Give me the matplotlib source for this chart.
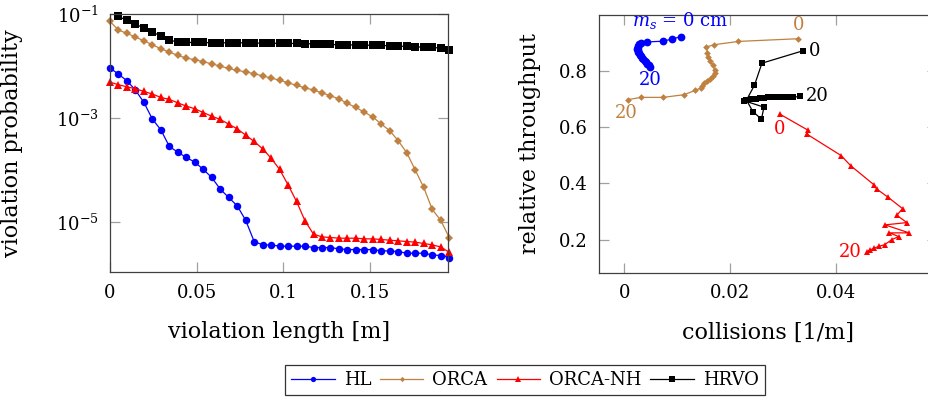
import numpy as np
import matplotlib
matplotlib.use("Agg")
import matplotlib.pyplot as plt
from matplotlib.ticker import NullLocator, FixedLocator

plt.rcParams['font.family'] = ['DejaVu Serif']
plt.rcParams['mathtext.fontset'] = 'custom'
plt.rcParams['mathtext.rm'] = 'DejaVu Serif'
plt.rcParams['mathtext.it'] = 'DejaVu Serif:italic'

# ---------------- left panel data ----------------
viol_len = np.linspace(0.0, 0.196, 41)  # sample grid (m)

hl_prob = [9.12e-3, 6.98e-3, 5.19e-3, 3.44e-3, 1.99e-3, 9.48e-4, 5.90e-4, 2.82e-4,
           2.19e-4, 1.73e-4, 1.41e-4, 1.02e-4, 7.13e-5, 4.25e-5, 2.94e-5, 2.03e-5,
           1.07e-5, 4.17e-6, 3.59e-6, 3.59e-6, 3.39e-6, 3.39e-6, 3.39e-6, 3.39e-6,
           3.19e-6, 3.19e-6, 3.19e-6, 3.01e-6, 2.92e-6, 2.92e-6, 2.92e-6, 2.92e-6,
           2.75e-6, 2.75e-6, 2.67e-6, 2.48e-6, 2.48e-6, 2.48e-6, 2.30e-6, 2.24e-6,
           2.05e-6]
orca_prob = [7.23e-2, 4.92e-2, 4.25e-2, 3.61e-2, 3.06e-2, 2.56e-2, 2.15e-2, 1.85e-2,
             1.60e-2, 1.42e-2, 1.32e-2, 1.21e-2, 1.10e-2, 9.95e-3, 8.97e-3, 8.22e-3,
             7.73e-3, 7.08e-3, 6.47e-3, 5.85e-3, 5.35e-3, 4.75e-3, 4.23e-3, 3.81e-3,
             3.44e-3, 3.05e-3, 2.67e-3, 2.33e-3, 1.90e-3, 1.59e-3, 1.29e-3, 1.04e-3,
             7.60e-4, 5.65e-4, 3.62e-4, 2.13e-4, 9.86e-5, 4.58e-5, 1.73e-5, 1.07e-5,
             4.98e-6]
orcanh_prob = [4.90e-3, 4.35e-3, 3.98e-3, 3.64e-3, 3.24e-3, 2.88e-3, 2.48e-3, 2.27e-3,
               1.95e-3, 1.69e-3, 1.50e-3, 1.27e-3, 1.08e-3, 9.35e-4, 7.60e-4, 6.17e-4,
               4.67e-4, 3.52e-4, 2.54e-4, 1.68e-4, 1.02e-4, 5.14e-5, 2.46e-5, 1.04e-5,
               5.77e-6, 5.12e-6, 4.98e-6, 4.83e-6, 4.83e-6, 4.83e-6, 4.69e-6, 4.69e-6,
               4.56e-6, 4.42e-6, 4.29e-6, 4.17e-6, 4.05e-6, 3.82e-6, 3.59e-6, 3.28e-6,
               2.59e-6]
hrvo_prob = [np.nan, 9.02e-2, 7.55e-2, 6.41e-2, 5.37e-2, 4.50e-2, 3.77e-2, 3.16e-2,
             2.89e-2, 2.84e-2, 2.84e-2, 2.84e-2, 2.80e-2, 2.80e-2, 2.80e-2, 2.80e-2,
             2.80e-2, 2.76e-2, 2.76e-2, 2.76e-2, 2.72e-2, 2.72e-2, 2.72e-2, 2.68e-2,
             2.68e-2, 2.64e-2, 2.60e-2, 2.56e-2, 2.56e-2, 2.53e-2, 2.53e-2, 2.49e-2,
             2.49e-2, 2.45e-2, 2.42e-2, 2.38e-2, 2.34e-2, 2.31e-2, 2.28e-2, 2.21e-2,
             2.05e-2]

# ---------------- right panel data (m_s = 0 ... 20 cm) ----------------
hl_coll = [0.01063, 0.00903, 0.00723, 0.00424, 0.00316, 0.00278, 0.00259, 0.00250,
           0.00246, 0.00250, 0.00259, 0.00274, 0.00293, 0.00312, 0.00335, 0.00358,
           0.00382, 0.00407, 0.00433, 0.00462, 0.00492]
hl_thr = [0.9205, 0.912, 0.9045, 0.902, 0.898, 0.894, 0.889, 0.883, 0.878, 0.873,
          0.867, 0.862, 0.857, 0.851, 0.846, 0.841, 0.835, 0.830, 0.825, 0.819, 0.814]
orca_coll = [0.03292, 0.02161, 0.01697, 0.01552, 0.01574, 0.01593, 0.01622, 0.01669,
             0.01707, 0.01716, 0.01678, 0.01622, 0.01565, 0.01508, 0.01470, 0.01446,
             0.01343, 0.01130, 0.00738, 0.00316, 0.00064]
orca_thr = [0.9134, 0.9038, 0.8921, 0.8840, 0.8638, 0.8496, 0.8354, 0.8213, 0.8035,
            0.7911, 0.7805, 0.7716, 0.7628, 0.7557, 0.7468, 0.7387, 0.7302, 0.7149,
            0.7054, 0.7054, 0.6972]
orcanh_coll = [0.02946, 0.03476, 0.03457, 0.04106, 0.04284, 0.04734, 0.04776, 0.04995,
               0.05268, 0.05160, 0.05349, 0.04937, 0.05393, 0.05018, 0.05198, 0.05065,
               0.04933, 0.04825, 0.04734, 0.04649, 0.04598]
orcanh_thr = [0.6458, 0.5891, 0.5750, 0.4988, 0.4633, 0.3942, 0.3807, 0.3510, 0.3109,
              0.2872, 0.2613, 0.2532, 0.2248, 0.2248, 0.2117, 0.2011, 0.1833, 0.1773,
              0.1709, 0.1638, 0.1585]
hrvo_coll = [0.03387, 0.02605, 0.02464, 0.02312, 0.02435, 0.02596, 0.02643, 0.02265,
             0.02341, 0.02416, 0.02492, 0.02568, 0.02643, 0.02719, 0.02795, 0.02870,
             0.02946, 0.03022, 0.03097, 0.03186, 0.03324]
hrvo_thr = [0.8709, 0.8266, 0.7486, 0.6955, 0.6547, 0.6281, 0.6706, 0.6937, 0.6955,
            0.6979, 0.7008, 0.7025, 0.7043, 0.7057, 0.7068, 0.7075, 0.7079, 0.7079,
            0.7068, 0.7054, 0.7089]

names = ['HL', 'ORCA', 'ORCA-NH', 'HRVO']
colors = ['#0000ff', '#bf8040', '#ff0000', '#000000']
markers = ['o', 'D', '^', 's']
msizes_l = [5.4, 3.8, 5.8, 5.2]
msizes_r = [5.6, 3.4, 5.0, 5.0]

left_x_ticks = [0, 0.05, 0.1, 0.15]
left_x_labels = ['0', '0.05', '0.1', '0.15']
left_y_ticks = [1e-1, 1e-3, 1e-5]
right_x_ticks = [0, 0.02, 0.04]
right_x_labels = ['0', '0.02', '0.04']
right_y_ticks = [0.2, 0.4, 0.6, 0.8]
right_y_labels = ['0.2', '0.4', '0.6', '0.8']

TICK_FS = 13
LABEL_FS = 16
SPINE_C = '#404040'
TICK_C = '#a0a0a0'

fig = plt.figure(figsize=(9.29, 4.0), dpi=100)
axL = fig.add_axes([0.1184, 0.319, 0.3642, 0.6458])
axR = fig.add_axes([0.6448, 0.3175, 0.3638, 0.645])

def style(ax):
    for s in ax.spines.values():
        s.set_color(SPINE_C)
        s.set_linewidth(0.9)
    ax.tick_params(which='both', direction='in', top=True, right=True,
                   length=7, width=0.9, color=TICK_C, labelsize=TICK_FS, pad=8)

# ----- left -----
left_series = [hl_prob, orca_prob, orcanh_prob, hrvo_prob]
handles = []
for ys, c, m, ms, nm in zip(left_series, colors, markers, msizes_l, names):
    h, = axL.plot(viol_len, ys, color=c, marker=m, ms=ms, lw=0.9, label=nm,
                  markeredgewidth=0, clip_on=False)
    handles.append(h)
axL.set_yscale('log')
axL.set_xlim(0, 0.1955)
axL.set_ylim(1.06e-6, 0.1)
axL.yaxis.set_major_locator(FixedLocator(left_y_ticks))
axL.yaxis.set_minor_locator(NullLocator())
axL.set_xticks(left_x_ticks)
axL.set_xticklabels(left_x_labels)
style(axL)
axL.set_xlabel('violation length [m]', fontsize=LABEL_FS, labelpad=14)
axL.set_ylabel('violation probability', fontsize=LABEL_FS)
axL.yaxis.set_label_coords(-0.257, 0.5)

# ----- right -----
right_series = [(hl_coll, hl_thr), (orca_coll, orca_thr),
                (orcanh_coll, orcanh_thr), (hrvo_coll, hrvo_thr)]
for (xs, ys), c, m, ms in zip(right_series, colors, markers, msizes_r):
    axR.plot(xs, ys, color=c, marker=m, ms=ms, lw=0.9, markeredgewidth=0)
axR.set_xlim(-0.0048, 0.0592)
axR.set_ylim(0.0825, 0.9975)
axR.set_xticks(right_x_ticks)
axR.set_xticklabels(right_x_labels)
axR.set_yticks(right_y_ticks)
axR.set_yticklabels(right_y_labels)
style(axR)
axR.set_xlabel('collisions [1/m]', fontsize=LABEL_FS, labelpad=14)
axR.set_ylabel('relative throughput', fontsize=LABEL_FS)
axR.yaxis.set_label_coords(-0.172, 0.5)

AFS = 13
def ann(ax, txt, xy, off, color, ha='center', va='center'):
    ax.annotate(txt, xy=xy, xytext=off, textcoords='offset points',
                ha=ha, va=va, color=color, fontsize=AFS, annotation_clip=False)

ann(axR, r'$m_s$ = 0 cm', (hl_coll[0], hl_thr[0]), (0, 12), colors[0])
ann(axR, '20', (hl_coll[-1], hl_thr[-1]), (0, -9.5), colors[0])
ann(axR, '0', (orca_coll[0], orca_thr[0]), (0, 10), colors[1])
ann(axR, '20', (orca_coll[-1], orca_thr[-1]), (-1, -9.5), colors[1])
ann(axR, '0', (orcanh_coll[0], orcanh_thr[0]), (0, -11), colors[2])
ann(axR, '20', (orcanh_coll[-1], orcanh_thr[-1]), (-4, 0), colors[2], ha='right')
ann(axR, '0', (hrvo_coll[0], hrvo_thr[0]), (4, 0), colors[3], ha='left')
ann(axR, '20', (hrvo_coll[-1], hrvo_thr[-1]), (4, 0), colors[3], ha='left')

leg = fig.legend(handles, names, loc='center', bbox_to_anchor=(0.565, 0.05),
                 ncol=4, fontsize=TICK_FS, frameon=True, fancybox=False,
                 edgecolor='black', handlelength=2.4, handletextpad=0.5,
                 columnspacing=0.5, borderpad=0.35, markerscale=0.7)
leg.get_frame().set_linewidth(0.9)

fig.savefig('out.png', dpi=100)
